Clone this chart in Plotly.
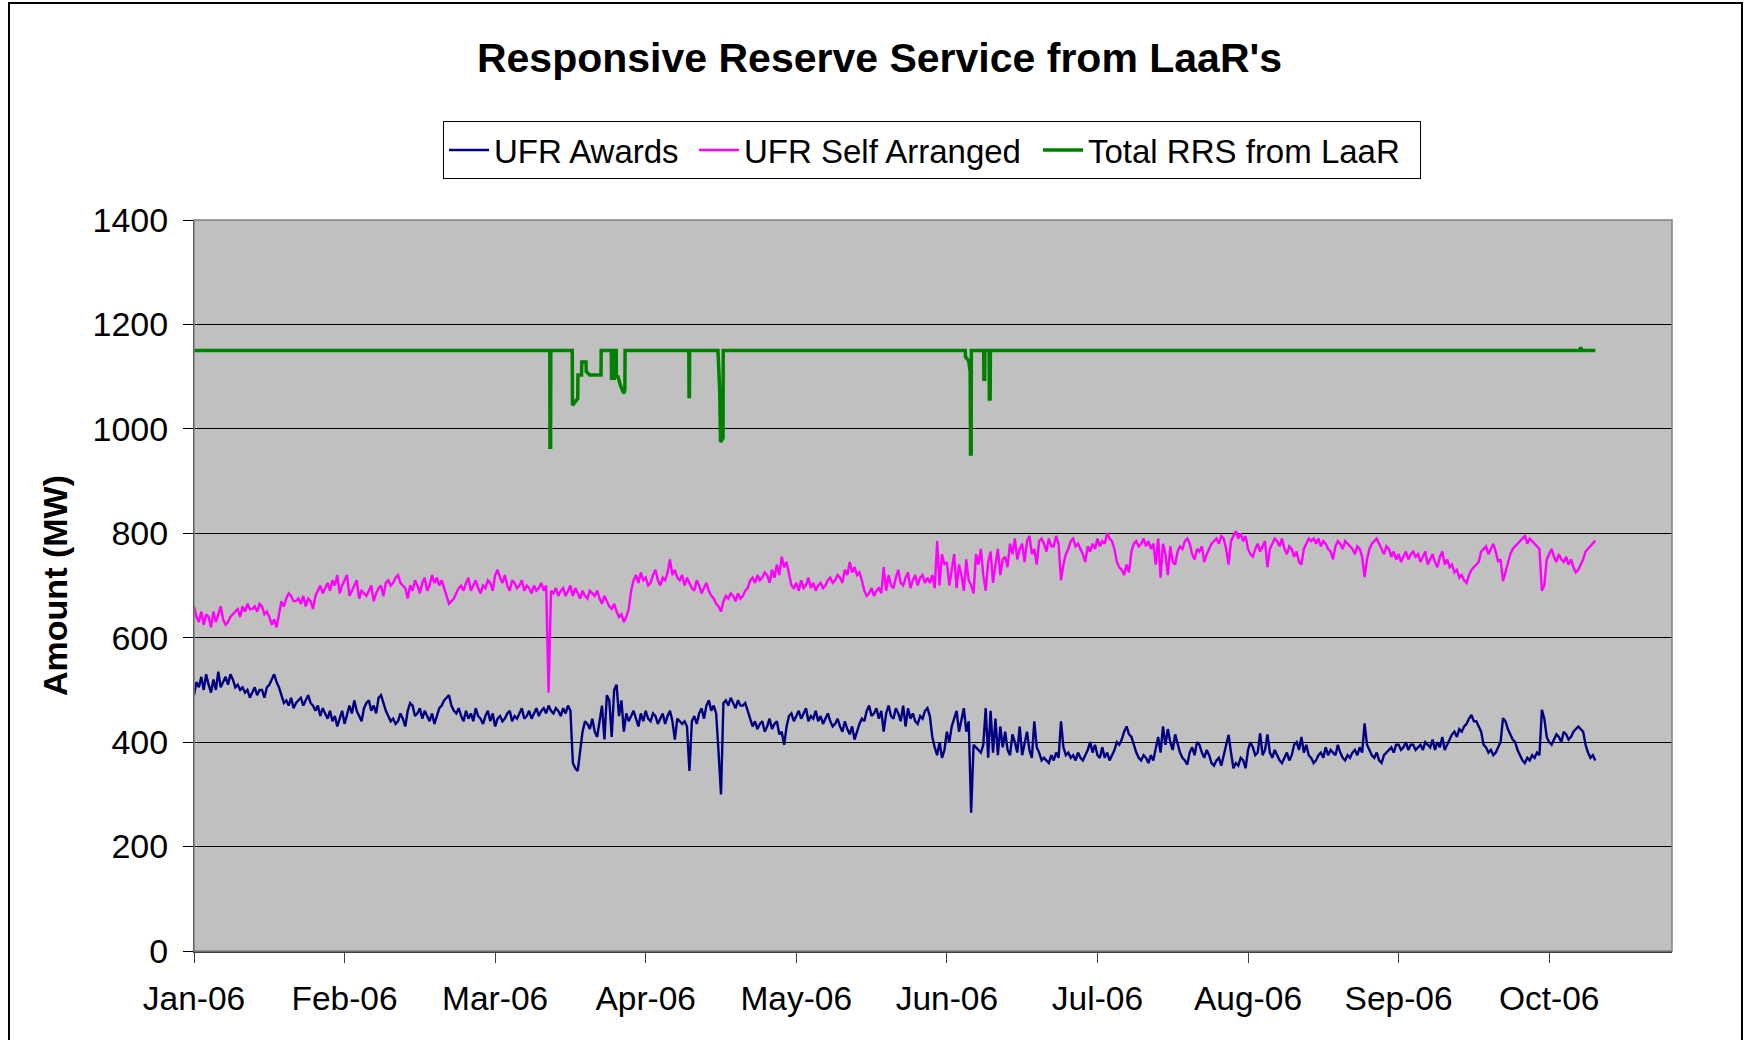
import pandas as pd
import plotly.graph_objects as go

# ---------------- data ----------------
# Two samples per day (00:00 and 12:00), 1 Jan 2006 .. 16 Oct 2006
start_time = "2006-01-01 00:00"
sample_freq = "12h"

ufr_awards = [
    490, 515, 505, 525, 500, 530, 510, 495, 520, 500,
    535, 505, 515, 525, 510, 530, 520, 505, 510, 500,
    505, 495, 500, 485, 495, 505, 490, 500, 500, 485,
    505, 510, 520, 530, 515, 505, 490, 475, 480, 470,
    485, 465, 475, 480, 485, 470, 480, 490, 475, 470,
    460, 470, 450, 465, 455, 445, 460, 440, 450, 430,
    445, 460, 435, 455, 470, 455, 480, 460, 450, 440,
    465, 475, 480, 460, 470, 455, 485, 490, 475, 460,
    450, 440, 445, 435, 440, 455, 445, 430, 460, 475,
    470, 450, 455, 465, 445, 460, 450, 440, 455, 435,
    450, 465, 470, 480, 485, 490, 470, 460, 455, 465,
    450, 440, 460, 445, 455, 440, 465, 450, 445, 435,
    450, 460, 440, 455, 430, 445, 450, 440, 445, 455,
    460, 440, 450, 445, 455, 465, 445, 450, 460, 445,
    455, 465, 450, 460, 465, 455, 470, 460, 455, 465,
    460, 450, 465, 455, 470, 460, 360, 350, 345, 380,
    420, 440, 435, 425, 445, 420, 410, 440, 470, 405,
    490, 480, 410, 500, 510, 450, 480, 420, 455, 440,
    450, 460, 445, 430, 455, 440, 460, 445, 440, 455,
    450, 435, 445, 455, 435, 450, 460, 440, 405, 445,
    440, 435, 440, 430, 345, 440, 450, 435, 455, 465,
    445, 470, 480, 460, 470, 455, 380, 300, 475, 480,
    470, 485, 475, 465, 480, 470, 470, 475, 460, 445,
    430, 440, 425, 435, 440, 420, 430, 445, 425, 435,
    440, 415, 420, 395, 430, 450, 455, 440, 450, 460,
    445, 455, 465, 440, 450, 445, 460, 440, 450, 435,
    445, 455, 440, 430, 435, 445, 430, 420, 440, 425,
    415, 430, 405, 420, 435, 445, 440, 460, 470, 450,
    455, 465, 445, 460, 420, 455, 470, 450, 445, 465,
    455, 440, 470, 430, 465, 445, 455, 440, 435, 450,
    445, 460, 465, 450, 410, 390, 375, 400, 370, 385,
    420, 400, 430, 445, 460, 420, 445, 465, 420, 440,
    265, 395, 390, 385, 380, 395, 465, 370, 460, 380,
    445, 375, 430, 390, 420, 385, 375, 415, 400, 380,
    430, 375, 395, 420, 385, 370, 440, 390, 380, 365,
    370, 365, 360, 375, 365, 380, 370, 440, 390, 375,
    380, 370, 375, 365, 380, 370, 365, 375, 385, 400,
    380, 395, 375, 370, 390, 370, 380, 365, 375, 385,
    400, 395, 405, 420, 430, 415, 410, 395, 380, 370,
    365, 375, 370, 360, 375, 365, 385, 410, 380, 430,
    395, 425, 400, 385, 415, 395, 380, 370, 365, 357,
    380, 390, 375, 400, 395, 380, 370, 385, 375, 360,
    355, 365, 370, 355, 375, 395, 414, 380, 350, 360,
    355, 370, 365, 350, 385, 400, 390, 375, 380, 417,
    375, 385, 415, 380, 370, 385, 375, 365, 360, 370,
    380, 365, 375, 395, 400, 385, 410, 380, 395, 375,
    370, 360, 365, 375, 380, 370, 390, 375, 385, 380,
    375, 395, 380, 370, 365, 375, 370, 380, 385, 375,
    390, 380, 436, 395, 385, 375, 370, 380, 365, 360,
    375, 380, 385, 390, 380, 395, 395, 385, 390, 400,
    385, 395, 395, 385, 390, 395, 385, 400, 395, 390,
    405, 385, 400, 390, 410, 385, 395, 405, 415, 420,
    410, 425, 420, 430, 435, 445, 452, 440, 440, 430,
    420, 395, 390, 380, 385, 375, 380, 390, 400, 446,
    440, 425, 415, 405, 400, 385, 375, 365, 360, 370,
    365, 375, 370, 380, 375, 462, 445, 410, 400, 395,
    405, 415, 410, 400, 420, 415, 405, 410, 420, 425,
    430, 425, 420, 395, 380, 370, 375, 365,
]

ufr_self_arranged = [
    660, 640, 630, 650, 625, 645, 640, 620, 650, 630,
    645, 660, 635, 625, 630, 640, 645, 650, 655, 640,
    660, 650, 665, 655, 655, 660, 650, 665, 660, 645,
    650, 640, 625, 635, 620, 645, 670, 660, 675, 685,
    680, 670, 670, 675, 665, 680, 660, 675, 670, 655,
    680, 690, 700, 685, 695, 705, 690, 710, 700, 720,
    685, 700, 710, 720, 680, 690, 700, 710, 675, 690,
    685, 680, 690, 700, 670, 685, 695, 700, 680, 705,
    710, 700, 705, 715, 720, 705, 700, 695, 675, 700,
    690, 710, 700, 685, 705, 715, 690, 700, 720, 705,
    715, 700, 710, 695, 680, 665, 670, 675, 685, 695,
    700, 690, 705, 715, 690, 700, 710, 695, 685, 700,
    695, 710, 705, 690, 720, 730, 715, 705, 720, 700,
    690, 710, 705, 695, 700, 710, 690, 700, 695, 685,
    700, 690, 695, 705, 690, 700, 495, 690, 685, 695,
    680, 690, 695, 680, 690, 700, 680, 695, 685, 675,
    690, 680, 675, 690, 685, 680, 690, 675, 665, 680,
    670, 660, 655, 665, 650, 640, 645, 630, 640, 655,
    690, 710, 720, 705, 725, 710, 715, 700, 705, 720,
    730, 710, 700, 715, 710, 725, 750, 720, 730, 715,
    710, 720, 700, 715, 705, 695, 690, 710, 700, 685,
    695, 705, 690, 680, 675, 665, 660, 650, 670, 680,
    675, 685, 680, 670, 685, 675, 680, 690, 695, 710,
    715, 705, 720, 710, 715, 725, 720, 705, 730, 715,
    740, 720, 755, 735, 745, 720, 700, 695, 705, 690,
    710, 695, 700, 715, 695, 705, 690, 700, 705, 695,
    700, 710, 715, 705, 710, 720, 715, 705, 730, 720,
    745, 725, 735, 720, 725, 710, 690, 680, 685, 695,
    680, 690, 695, 685, 735, 690, 720, 700, 695, 715,
    730, 705, 700, 715, 725, 695, 710, 720, 700, 715,
    720, 705, 715, 705, 720, 695, 785, 700, 760, 740,
    745, 700, 730, 760, 695, 740, 720, 690, 750, 710,
    700, 685, 760, 740, 770, 720, 690, 745, 765, 705,
    740, 770, 720, 750, 755, 735, 780, 760, 790, 750,
    770, 780, 745, 785, 795, 760, 770, 740, 785, 790,
    780, 765, 790, 775, 775, 795, 780, 710, 740, 760,
    770, 785, 790, 775, 780, 770, 760, 745, 775, 765,
    780, 770, 790, 775, 785, 780, 800, 790, 785, 770,
    745, 735, 730, 720, 740, 725, 765, 780, 785, 775,
    780, 790, 775, 785, 770, 780, 740, 790, 715, 780,
    760, 720, 775, 745, 740, 765, 775, 770, 785, 790,
    780, 760, 750, 770, 765, 775, 745, 760, 770, 780,
    785, 790, 780, 795, 790, 770, 740, 785, 795, 804,
    790, 800, 785, 795, 770, 760, 755, 770, 780, 765,
    775, 785, 735, 770, 780, 790, 785, 775, 790, 770,
    760, 775, 770, 755, 765, 745, 740, 770, 780, 790,
    785, 790, 780, 790, 775, 785, 780, 770, 765, 750,
    775, 785, 780, 770, 785, 780, 775, 770, 760, 775,
    770, 755, 716, 750, 770, 780, 785, 790, 780, 770,
    760, 775, 770, 755, 765, 750, 760, 745, 755, 765,
    750, 760, 765, 755, 760, 745, 755, 765, 740, 750,
    760, 745, 735, 755, 765, 740, 750, 735, 740, 725,
    730, 715, 720, 710, 705, 720, 730, 735, 740, 745,
    765, 770, 775, 760, 770, 780, 765, 745, 750, 709,
    725, 745, 760, 770, 775, 780, 785, 790, 795, 780,
    790, 785, 780, 775, 770, 690, 700, 750, 760, 770,
    755, 745, 760, 750, 745, 755, 740, 750, 735, 725,
    730, 740, 750, 765, 770, 775, 780, 786,
]

rrs_time = [
    "2006-01-01 00:00", "2006-03-15 06:00", "2006-03-15 07:00", "2006-03-15 10:00",
    "2006-03-15 11:00", "2006-03-19 21:00", "2006-03-19 22:00", "2006-03-21 00:00",
    "2006-03-21 01:00", "2006-03-21 19:00", "2006-03-21 20:00", "2006-03-22 17:00",
    "2006-03-22 18:00", "2006-03-23 12:00", "2006-03-25 19:00", "2006-03-25 20:00",
    "2006-03-27 22:00", "2006-03-27 23:00", "2006-03-28 12:00", "2006-03-28 13:00",
    "2006-03-28 22:00", "2006-03-28 23:00", "2006-03-29 07:00", "2006-03-29 22:00",
    "2006-03-30 12:00", "2006-03-30 17:00", "2006-03-30 18:00", "2006-04-12 21:00",
    "2006-04-12 22:00", "2006-04-13 00:00", "2006-04-13 01:00", "2006-04-18 21:00",
    "2006-04-19 05:00", "2006-04-19 10:00", "2006-04-19 22:00", "2006-04-19 23:00",
    "2006-06-08 19:00", "2006-06-08 20:00", "2006-06-09 12:00", "2006-06-09 19:00",
    "2006-06-09 21:00", "2006-06-10 00:00", "2006-06-10 01:00", "2006-06-12 14:00",
    "2006-06-12 15:00", "2006-06-12 19:00", "2006-06-12 20:00", "2006-06-13 17:00",
    "2006-06-13 18:00", "2006-06-13 22:00", "2006-06-13 23:00", "2006-10-13 05:00",
    "2006-10-13 12:00", "2006-10-13 19:00", "2006-10-16 12:00",
]
rrs_total = [
    1150, 1150, 965, 965,
    1150, 1150, 1045, 1058,
    1103, 1103, 1128, 1128,
    1110, 1103, 1103, 1150,
    1150, 1097, 1097, 1150,
    1150, 1100, 1100, 1080,
    1068, 1075, 1150, 1150,
    1062, 1062, 1150, 1150,
    1080, 975, 982, 1150,
    1150, 1138, 1130, 1110,
    952, 952, 1150, 1150,
    1095, 1095, 1150, 1150,
    1057, 1057, 1150, 1150,
    1156, 1150, 1150,
]

# category-style month ticks (evenly spaced, as in the source chart)
tick_dates = ["2006-01-01", "2006-02-01", "2006-03-04", "2006-04-04", "2006-05-05",
              "2006-06-05", "2006-07-06", "2006-08-06", "2006-09-06", "2006-10-07"]
tick_labels = ["Jan-06", "Feb-06", "Mar-06", "Apr-06", "May-06",
               "Jun-06", "Jul-06", "Aug-06", "Sep-06", "Oct-06"]
x_range = ["2006-01-01 00:00", "2006-11-01 07:00"]

series_time = pd.date_range(start_time, periods=len(ufr_awards), freq=sample_freq)

FONT = "Liberation Sans, Arial, sans-serif"

fig = go.Figure()
fig.add_trace(go.Scatter(x=series_time, y=ufr_awards, mode="lines", name="UFR Awards",
                         legendwidth=195, line=dict(color="#000080", width=2.4)))
fig.add_trace(go.Scatter(x=series_time, y=ufr_self_arranged, mode="lines", name="UFR Self Arranged",
                         legendwidth=289, line=dict(color="#FF00FF", width=2.4)))
fig.add_trace(go.Scatter(x=pd.to_datetime(rrs_time), y=rrs_total, mode="lines", name="Total RRS from LaaR",
                         legendwidth=327, line=dict(color="#008000", width=3.5)))

L, R, T, B = 194, 80, 220, 89
W, H = 1752, 1040
pw, ph = W - L - R, H - T - B

fig.update_layout(
    width=W, height=H,
    margin=dict(l=L, r=R, t=T, b=B, autoexpand=False),
    paper_bgcolor="white",
    plot_bgcolor="#C0C0C0",
    font=dict(family=FONT, color="black", size=33),
    title=dict(text="<b>Responsive Reserve Service from LaaR's</b>",
               x=0.502, xref="container", xanchor="center",
               y=1 - 58 / H, yref="container", yanchor="middle",
               font=dict(size=41, family=FONT, color="black")),
    showlegend=True,
    legend=dict(orientation="h", x=(443 - L) / pw, xanchor="left",
                y=(H - B - 121) / ph, yanchor="top",
                bgcolor="white", bordercolor="black", borderwidth=1,
                font=dict(size=33, family=FONT, color="black"),
                itemwidth=40, tracegroupgap=0),
    xaxis=dict(type="date", range=x_range, tickmode="array",
               tickvals=tick_dates, ticktext=tick_labels,
               showgrid=False, zeroline=False,
               showline=True, linecolor="#404040", linewidth=2,
               ticks="outside", ticklen=10, tickcolor="#404040", tickwidth=1,
               ticklabelstandoff=7,
               tickfont=dict(size=33.5, family=FONT, color="black")),
    yaxis=dict(range=[0, 1400], dtick=200, tick0=0,
               showgrid=True, gridcolor="black", gridwidth=1, zeroline=False,
               showline=True, linecolor="black", linewidth=1,
               ticks="outside", ticklen=10, tickcolor="black", tickwidth=1,
               ticklabelstandoff=8,
               tickfont=dict(size=34, family=FONT, color="black"),
               title=dict(text="<b>Amount (MW)</b>", standoff=14,
                          font=dict(size=34, family=FONT, color="black"))),
    shapes=[
        # plot-area frame (top / right edges)
        dict(type="rect", xref="paper", yref="paper", x0=0, x1=1, y0=0, y1=1,
             line=dict(color="#808080", width=1.5), layer="above"),
        # outer chart border
        dict(type="rect", xref="paper", yref="paper",
             x0=(9 - L) / pw, x1=(1742 - L) / pw,
             y0=(H - B - 1050) / ph, y1=(H - B - 3) / ph,
             line=dict(color="black", width=2), layer="above"),
    ],
)

fig.write_html("out.html", config={"displayModeBar": False},
               post_script="document.body.style.margin='0px';")
